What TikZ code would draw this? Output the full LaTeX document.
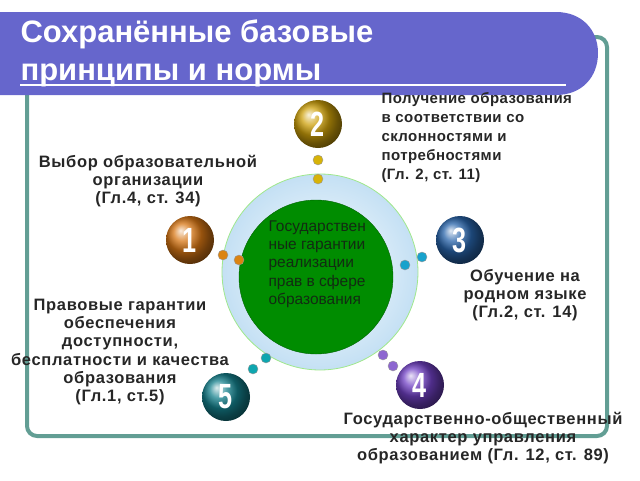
\documentclass[tikz,border=0pt]{standalone}
\usepackage{fontspec}
\setmainfont{Liberation Sans}
\usetikzlibrary{shadings}

\definecolor{bannerblue}{RGB}{102,102,204}
\definecolor{framegreen}{RGB}{98,158,148}
\definecolor{ringblue}{RGB}{196,224,244}
\definecolor{ringline}{RGB}{160,232,140}
\definecolor{coregreen}{RGB}{0,140,0}
\definecolor{coretext}{RGB}{18,44,18}
\definecolor{cgold}{RGB}{205,160,10}
\definecolor{corange}{RGB}{215,118,20}
\definecolor{cblue}{RGB}{40,100,170}
\definecolor{cviolet}{RGB}{112,64,196}
\definecolor{cteal}{RGB}{20,128,140}

\newcommand\balnum[1]{\scalebox{0.72}[1]{#1}}

\begin{document}
\begin{tikzpicture}[x=1pt,y=-1pt]
	\tikzstyle{ball} = [circle,inner sep=0pt,minimum size=48pt,text=white,
		font=\fontsize{35}{35}\selectfont\bfseries]
	\tikzstyle{dot} = [circle,inner sep=0pt,minimum size=10pt,draw=black!40,line width=0.4pt]
	\tikzstyle{note} = [align=center,text=black!85,
		font=\fontsize{16.5}{18.3}\selectfont\bfseries\addfontfeature{LetterSpace=4}]
	\useasboundingbox (0,0) rectangle (640,480);
	% frame and title banner
	\draw[framegreen,line width=4pt,rounded corners=10pt] (27,37) rectangle (607,436);
	\fill[bannerblue] (0,12) -- (556,12) .. controls (582,12) and (598,30) .. (598,53)
		.. controls (598,77) and (582,95) .. (556,95) -- (0,95) -- cycle;
	\draw[white,line width=1.5pt] (20,85) -- (566,85);
	\node[anchor=west,text=white,align=left,
		font=\fontsize{31}{38}\selectfont\bfseries] (title) at (17,53)
		{Сохранённые базовые\\принципы и нормы};
	% centre
	\node[circle,minimum size=196pt,inner color=white,outer color=ringblue] (ring) at (320,272) {};
	\draw[ringline,line width=0.8pt] (ring.center) circle (98pt);
	\node[circle,minimum size=154pt,fill=coregreen,draw=coregreen!70!black] (core) at (316,277) {};
	\node[anchor=north west,align=left,text=coretext,
		font=\fontsize{15.5}{18.3}\selectfont] (coretxt) at (265,217)
		{Государствен\\ные гарантии\\реализации\\прав в сфере\\образования};
	% balls
	\node[ball,ball color=cgold] (b2) at (318,124) {\balnum{2}};
	\node[ball,ball color=corange] (b1) at (190,240) {\balnum{1}};
	\node[ball,ball color=cblue] (b3) at (460,240) {\balnum{3}};
	\node[ball,ball color=cviolet] (b4) at (420,385) {\balnum{4}};
	\node[ball,ball color=cteal] (b5) at (226,397) {\balnum{5}};
	% dots
	\node[dot,fill=cgold!80!yellow] (d2a) at (318,160) {};
	\node[dot,fill=cgold!80!yellow] (d2b) at (318,179) {};
	\node[dot,fill=corange!90!yellow] (d1a) at (223,255) {};
	\node[dot,fill=corange!90!yellow] (d1b) at (239,260) {};
	\node[dot,fill=cblue!60!cyan] (d3a) at (422,257) {};
	\node[dot,fill=cblue!60!cyan] (d3b) at (405,265) {};
	\node[dot,fill=cviolet!80!white] (d4a) at (383,355) {};
	\node[dot,fill=cviolet!80!white] (d4b) at (393,366) {};
	\node[dot,fill=cteal!70!cyan] (d5a) at (266,358) {};
	\node[dot,fill=cteal!70!cyan] (d5b) at (253,369) {};
	% captions
	\node[note] (n1) at (148,181) {Выбор образовательной\\организации\\(Гл.4, ст. 34)};
	\node[note,align=left,anchor=north west,
		font=\fontsize{15}{19}\selectfont\bfseries\addfontfeature{LetterSpace=3}] (n2) at (378,89)
		{Получение образования\\в соответствии со\\склонностями и\\потребностями\\(Гл. 2, ст. 11)};
	\node[note] (n3) at (525,295) {Обучение на\\родном языке\\(Гл.2, ст. 14)};
	\node[note] (n4) at (483,438) {Государственно-общественный\\характер управления\\образованием (Гл. 12, ст. 89)};
	\node[note] (n5) at (120,352) {Правовые гарантии\\обеспечения\\доступности,\\бесплатности и качества\\образования\\(Гл.1, ст.5)};
\end{tikzpicture}
\end{document}
